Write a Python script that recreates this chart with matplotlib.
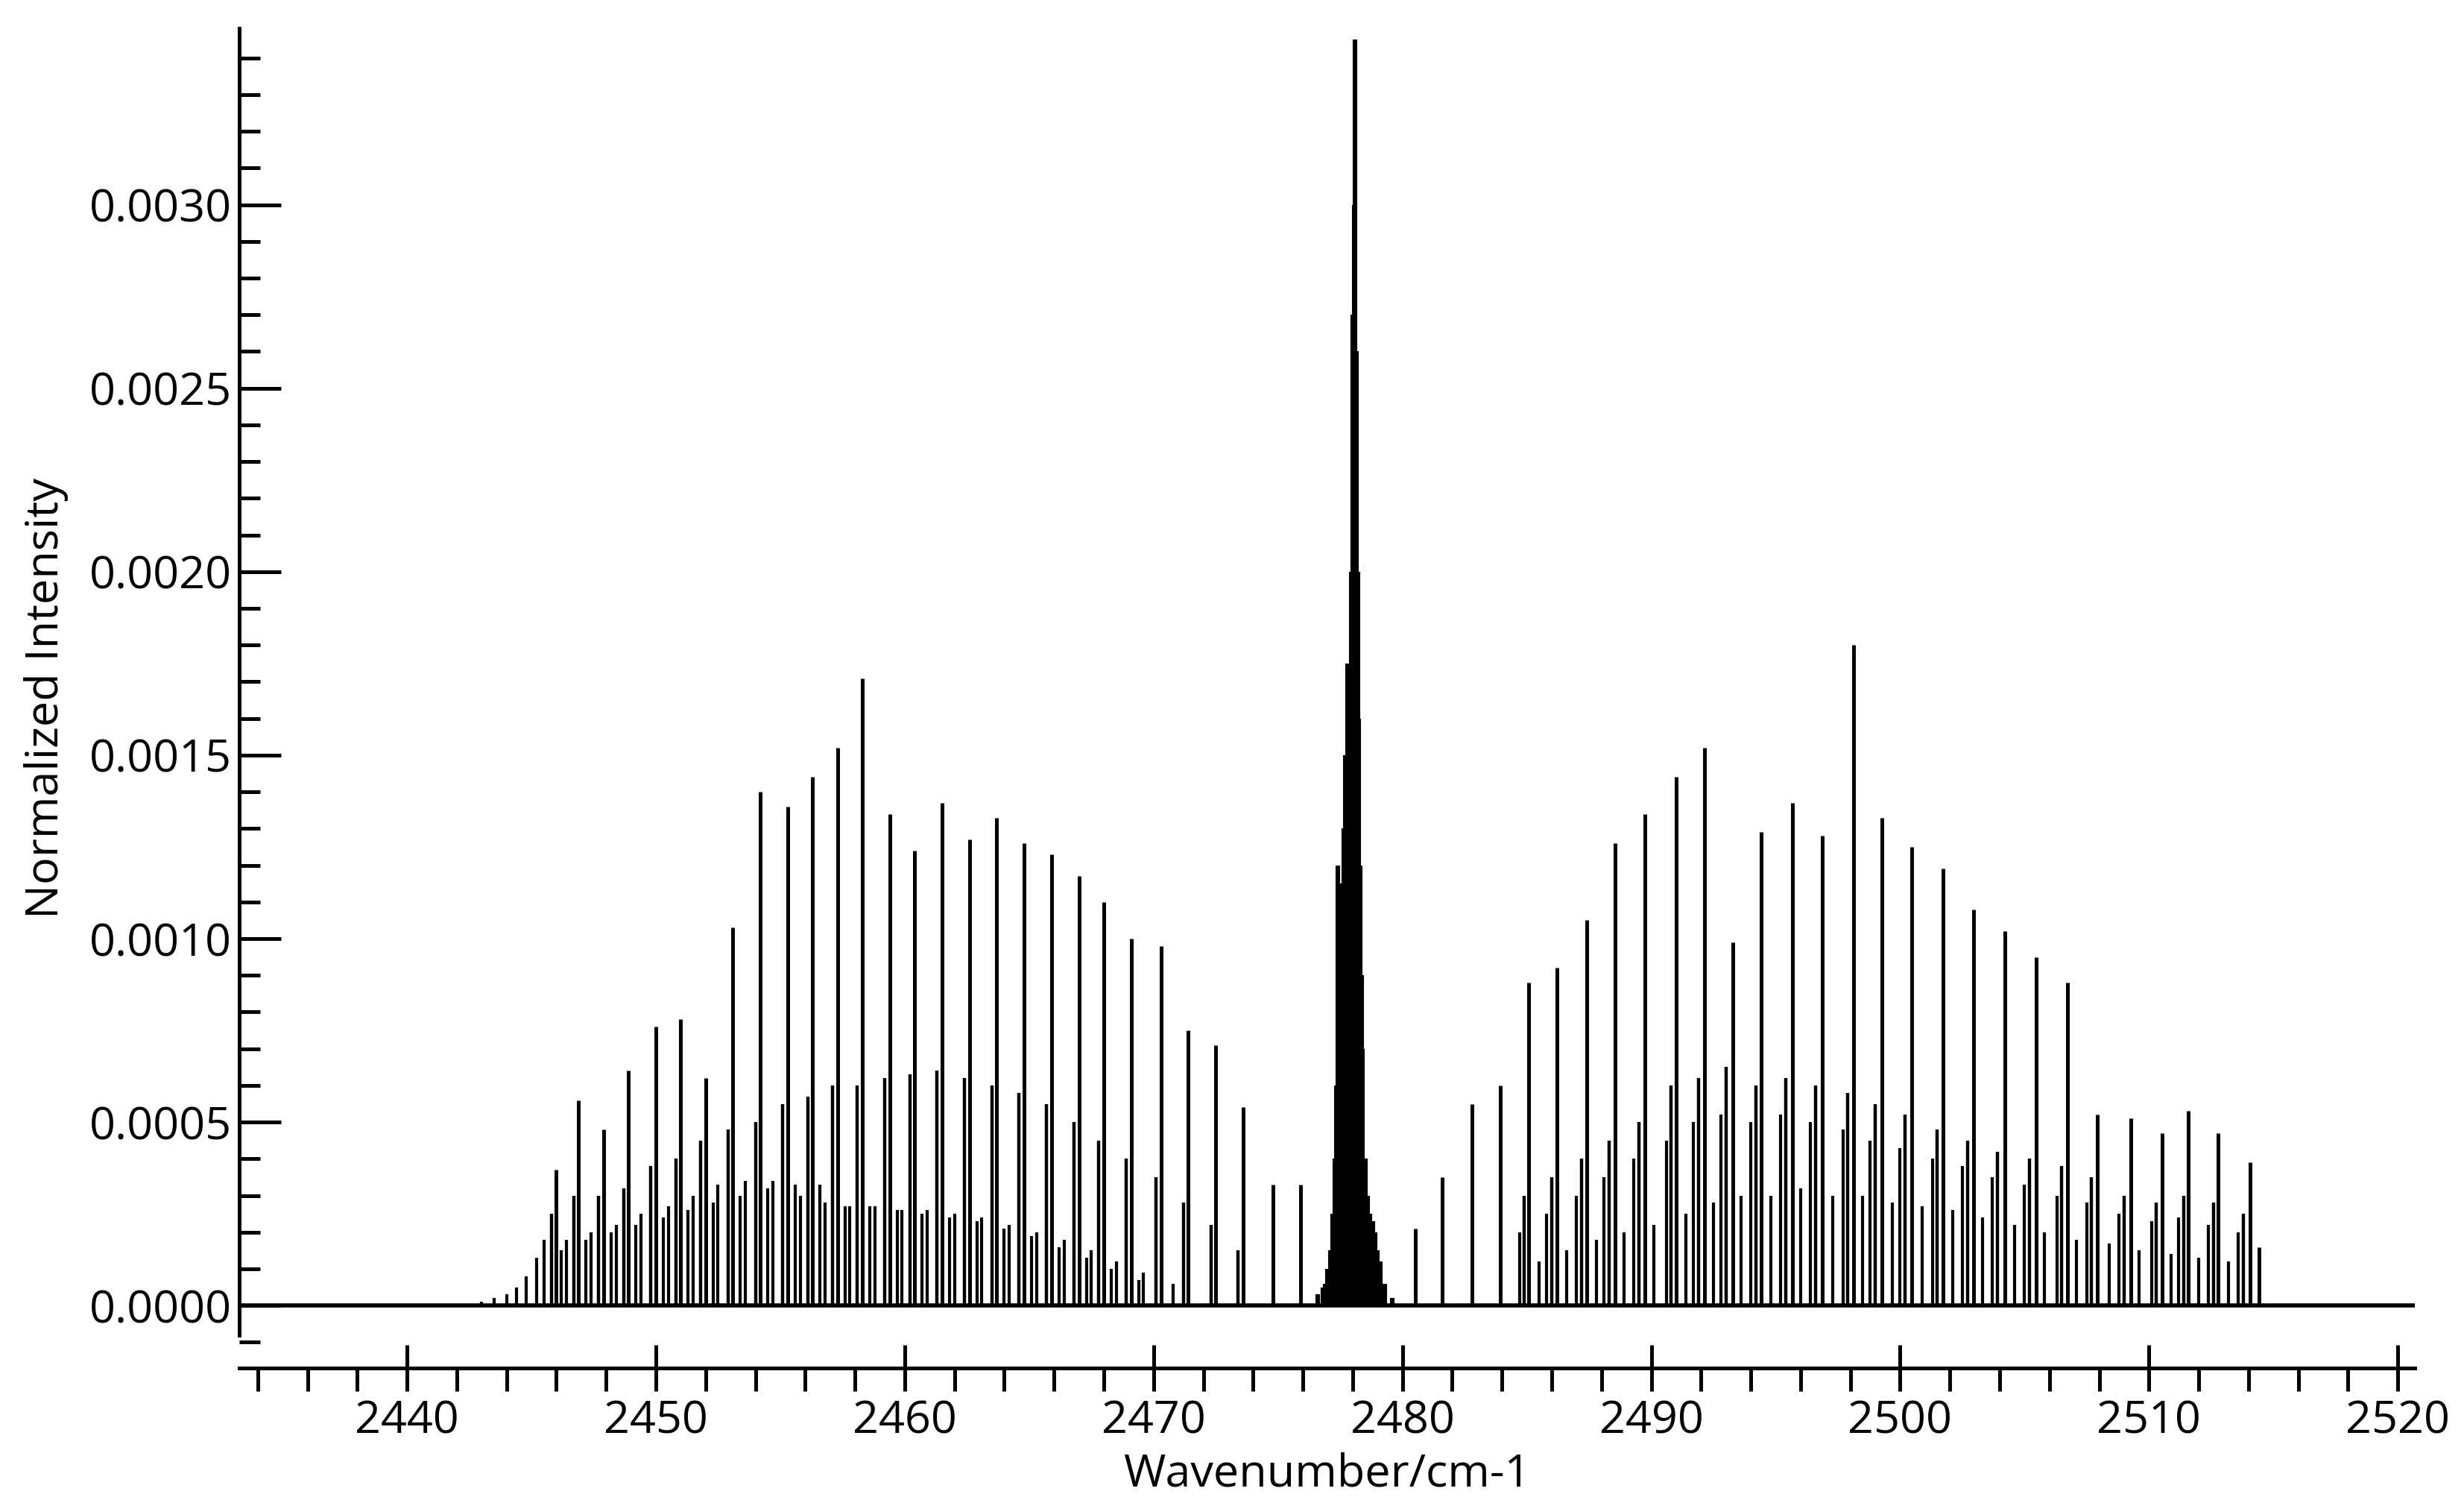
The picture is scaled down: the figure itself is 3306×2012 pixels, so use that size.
import matplotlib
matplotlib.use('Agg')
import matplotlib.pyplot as plt
from matplotlib.ticker import MultipleLocator, FormatStrFormatter

plt.rcParams['font.family'] = ['Open Sans', 'DejaVu Sans']

# P branch strong lines
p_pos = [2446.0, 2446.9, 2447.9, 2448.9, 2450.0, 2451.0, 2452.0, 2453.1, 2454.2, 2455.3,
         2456.3, 2457.3, 2458.3, 2459.4, 2460.4, 2461.5, 2462.6, 2463.7, 2464.8, 2465.9,
         2467.0, 2468.0, 2469.1, 2470.3, 2471.4, 2472.5, 2473.6, 2474.8, 2475.9]
p_int = [0.00037, 0.00056, 0.00048, 0.00064, 0.00076, 0.00078, 0.00062, 0.00103, 0.00140, 0.00136,
         0.00144, 0.00152, 0.00171, 0.00134, 0.00124, 0.00137, 0.00127, 0.00133, 0.00126, 0.00123,
         0.00117, 0.00110, 0.00100, 0.00098, 0.00075, 0.00071, 0.00054, 0.00033, 0.00033]
# P branch companion lines
p2_pos = [2445.8, 2446.7, 2447.7, 2448.7, 2449.8, 2450.8, 2451.8, 2452.9, 2454.0, 2455.1,
          2456.1, 2457.1, 2458.1, 2459.2, 2460.2, 2461.3, 2462.4, 2463.5, 2464.6, 2465.7,
          2466.8, 2467.8, 2468.9, 2470.1, 2471.2, 2472.3, 2473.4]
p2_int = [0.00025, 0.00030, 0.00030, 0.00032, 0.00038, 0.00040, 0.00045, 0.00048, 0.00050, 0.00055,
          0.00057, 0.00060, 0.00060, 0.00062, 0.00063, 0.00064, 0.00062, 0.00060, 0.00058, 0.00055,
          0.00050, 0.00045, 0.00040, 0.00035, 0.00028, 0.00022, 0.00015]
p3_pos = [2446.4, 2447.4, 2448.4, 2449.4, 2450.5, 2451.5, 2452.5, 2453.6, 2454.7, 2455.8,
          2456.8, 2457.8, 2458.8, 2459.9, 2460.9, 2462.0, 2463.1, 2464.2, 2465.3, 2466.4,
          2467.5, 2468.5, 2469.6, 2470.8]
p3_int = [0.00018, 0.00020, 0.00022, 0.00025, 0.00027, 0.00030, 0.00033, 0.00034, 0.00034, 0.00030,
          0.00028, 0.00027, 0.00027, 0.00026, 0.00026, 0.00025, 0.00024, 0.00022, 0.00020, 0.00018,
          0.00015, 0.00012, 0.00009, 0.00006]
p4_pos = [2446.2, 2447.2, 2448.2, 2449.2, 2450.3, 2451.3, 2452.3, 2453.4, 2454.5, 2455.6,
          2456.6, 2457.6, 2458.6, 2459.7, 2460.7, 2461.8, 2462.9, 2464.0, 2465.1, 2466.2,
          2467.3, 2468.3, 2469.4]
p4_int = [0.00015, 0.00018, 0.00020, 0.00022, 0.00024, 0.00026, 0.00028, 0.00030, 0.00032, 0.00033,
          0.00033, 0.00027, 0.00027, 0.00026, 0.00025, 0.00024, 0.00023, 0.00021, 0.00019, 0.00016,
          0.00013, 0.00010, 0.00007]
# weak onset
tail_pos = [2442.5, 2443.0, 2443.5, 2444.0, 2444.4, 2444.8, 2445.2, 2445.5]
tail_int = [0.000005, 0.00001, 0.00002, 0.00003, 0.00005, 0.00008, 0.00013, 0.00018]

# Q branch
q_pos = [2476.6, 2476.8, 2476.9, 2477.0, 2477.1, 2477.2, 2477.3, 2477.35, 2477.4, 2477.45,
         2477.5, 2477.55, 2477.6, 2477.65, 2477.7, 2477.75, 2477.8, 2477.85, 2477.9, 2477.95,
         2478.0, 2478.05, 2478.1, 2478.15, 2478.2, 2478.25, 2478.3, 2478.35, 2478.4, 2478.5,
         2478.6, 2478.7, 2478.8, 2478.9, 2479.0, 2479.1, 2479.3, 2479.6]
q_int = [0.00003, 0.00005, 0.00006, 0.00010, 0.00015, 0.00025, 0.00040, 0.00060, 0.00120, 0.00080,
         0.00090, 0.00100, 0.00115, 0.00130, 0.00150, 0.00140, 0.00175, 0.00155, 0.00155, 0.00200,
         0.00270, 0.00300, 0.00345, 0.00260, 0.00200, 0.00160, 0.00120, 0.00090, 0.00070, 0.00040,
         0.00030, 0.00025, 0.00023, 0.00020, 0.00015, 0.00012, 0.00006, 0.00002]

# R branch strong lines
r_pos = [2480.53, 2481.60, 2482.80, 2483.94, 2485.08, 2486.21, 2487.41, 2488.55, 2489.75, 2491.01,
         2492.15, 2493.28, 2494.42, 2495.68, 2496.88, 2498.14, 2499.28, 2500.48, 2501.74, 2502.94,
         2504.20, 2505.47, 2506.73, 2507.93, 2509.26, 2510.52, 2511.59, 2512.79, 2514.05, 2514.43]
r_int = [0.00021, 0.00035, 0.00055, 0.00060, 0.00088, 0.00092, 0.00105, 0.00126, 0.00134, 0.00144,
         0.00152, 0.00099, 0.00129, 0.00137, 0.00128, 0.00180, 0.00133, 0.00125, 0.00119, 0.00108,
         0.00102, 0.00095, 0.00088, 0.00052, 0.00051, 0.00047, 0.00053, 0.00047, 0.00039, 0.00016]
r2_pos = [2484.9, 2486.0, 2487.2, 2488.3, 2489.5, 2490.8, 2491.9, 2493.0, 2494.2, 2495.4,
          2496.6, 2497.9, 2499.0, 2500.2, 2501.5, 2502.7, 2503.9, 2505.2, 2506.5, 2507.7,
          2509.0, 2510.3, 2511.4, 2512.6, 2513.8]
r2_int = [0.00030, 0.00035, 0.00040, 0.00045, 0.00050, 0.00060, 0.00062, 0.00065, 0.00060, 0.00062,
          0.00060, 0.00058, 0.00055, 0.00052, 0.00048, 0.00045, 0.00042, 0.00040, 0.00038, 0.00035,
          0.00030, 0.00028, 0.00030, 0.00028, 0.00025]
r3_pos = [2485.5, 2486.6, 2487.8, 2488.9, 2490.1, 2491.4, 2492.5, 2493.6, 2494.8, 2496.0,
          2497.3, 2498.5, 2499.7, 2500.9, 2502.1, 2503.3, 2504.6, 2505.8, 2507.1, 2508.4,
          2509.6, 2510.9, 2512.0, 2513.2]
r3_int = [0.00012, 0.00015, 0.00018, 0.00020, 0.00022, 0.00025, 0.00028, 0.00030, 0.00030, 0.00032,
          0.00030, 0.00030, 0.00028, 0.00027, 0.00026, 0.00024, 0.00022, 0.00020, 0.00018, 0.00017,
          0.00015, 0.00014, 0.00013, 0.00012]
r4_pos = [2484.7, 2485.8, 2487.0, 2488.1, 2489.3, 2490.6, 2491.7, 2492.8, 2494.0, 2495.2,
          2496.4, 2497.7, 2498.8, 2500.0, 2501.3, 2502.5, 2503.7, 2505.0, 2506.3, 2507.5,
          2508.8, 2510.1, 2511.2, 2512.4, 2513.6]
r4_int = [0.00020, 0.00025, 0.00030, 0.00035, 0.00040, 0.00045, 0.00050, 0.00052, 0.00050, 0.00052,
          0.00050, 0.00048, 0.00045, 0.00043, 0.00040, 0.00038, 0.00035, 0.00033, 0.00030, 0.00028,
          0.00025, 0.00023, 0.00024, 0.00022, 0.00020]

fig = plt.figure(figsize=(16.53, 10.06), dpi=200)
ax = fig.add_axes([0.097, 0.088, 0.883, 0.893])

ax.vlines(tail_pos, 0, tail_int, color='black', lw=1.5)
ax.vlines(p4_pos + r4_pos, 0, p4_int + r4_int, color='black', lw=1.5)
ax.vlines(p3_pos + r3_pos, 0, p3_int + r3_int, color='black', lw=1.5)
ax.vlines(p2_pos + r2_pos, 0, p2_int + r2_int, color='black', lw=1.6)
ax.vlines(p_pos + r_pos, 0, p_int + r_int, color='black', lw=1.8)
ax.vlines(q_pos, 0, q_int, color='black', lw=2.2)
ax.axhline(0, color='black', lw=2.0)

ax.set_xlim(2433.25, 2520.68)
ax.set_ylim(-0.00017, 0.00348)
for s in ['top', 'right']:
    ax.spines[s].set_visible(False)
ax.spines['left'].set_bounds(-0.00008, 0.00348)
ax.spines['left'].set_linewidth(1.8)
ax.spines['bottom'].set_linewidth(1.8)

ax.xaxis.set_major_locator(MultipleLocator(10))
ax.xaxis.set_minor_locator(MultipleLocator(2))
ax.yaxis.set_major_locator(MultipleLocator(0.0005))
ax.yaxis.set_minor_locator(MultipleLocator(0.0001))
ax.yaxis.set_major_formatter(FormatStrFormatter('%.4f'))
ax.tick_params(axis='x', which='major', direction='inout', length=22, width=1.8, labelsize=22, pad=4)
ax.tick_params(axis='x', which='minor', direction='out', length=11, width=1.8)
ax.tick_params(axis='y', which='major', direction='in', length=20, width=1.8, labelsize=22)
ax.tick_params(axis='y', which='minor', direction='in', length=10, width=1.8)

ax.set_xlabel('Wavenumber/cm-1', fontsize=22, labelpad=4)
ax.set_ylabel('Normalized Intensity', fontsize=22, labelpad=10)

plt.savefig('out.png', dpi=200)
